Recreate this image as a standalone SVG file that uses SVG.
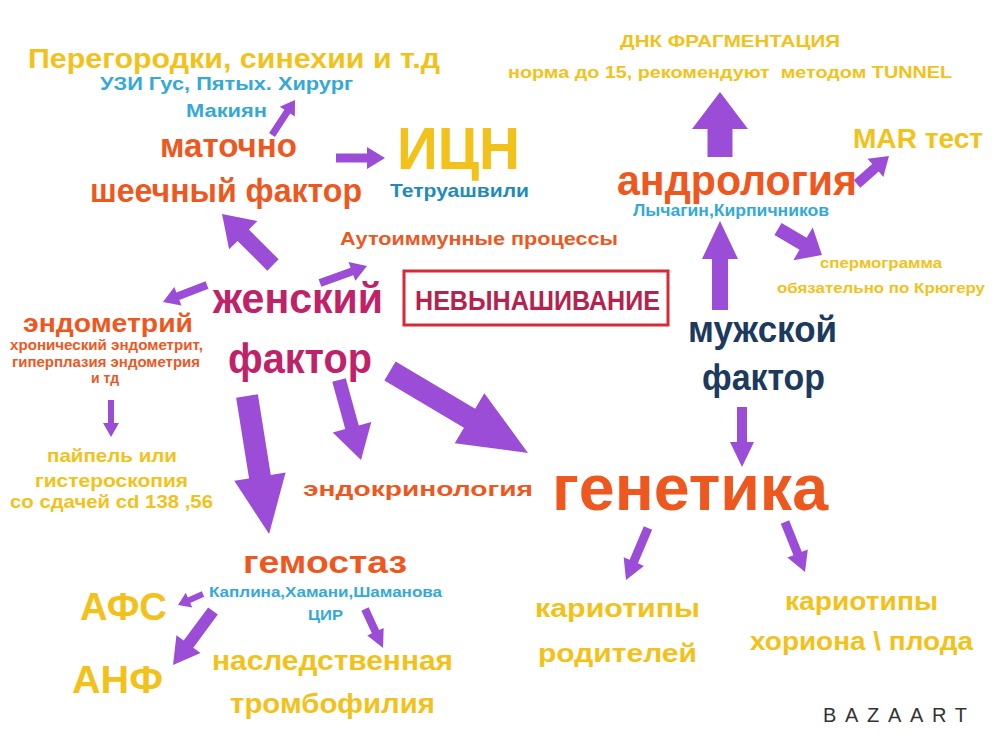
<svg xmlns="http://www.w3.org/2000/svg" width="1000" height="749" viewBox="0 0 1000 749">
<style>
text{font-family:"Liberation Sans",Arial,sans-serif;font-weight:bold}
.y{fill:#F2C21B}.o{fill:#EE581F}.b{fill:#34A9D9}.bd{fill:#1E8CBA}.m{fill:#C0226A}.n{fill:#1B3A5E}
.arr{fill:#9B4DD8}
</style>
<rect width="1000" height="749" fill="#FFFFFF"/>
<g id="connectors">
<path class="arr" d="M0,-3.5 H27.9 V-9 L41.9,0 L27.9,9 V3.5 H0Z" transform="translate(272,135) rotate(-56.7)"/>
<path class="arr" d="M0,-4.5 H31 V-11 L49,0 L31,11 V4.5 H0Z" transform="translate(336,158)"/>
<path class="arr" d="M0,-8 H42.1 V-20 L72.1,0 L42.1,20 V8 H0Z" transform="translate(273,265) rotate(-135)"/>
<path class="arr" d="M0,-4 H34 V-10 L50,0 L34,10 V4 H0Z" transform="translate(320,283) rotate(-19.9)"/>
<path class="arr" d="M0,-4 H31.2 V-10 L47.2,0 L31.2,10 V4 H0Z" transform="translate(207,285) rotate(158.9)"/>
<path class="arr" d="M0,-3 H23 V-8 L37,0 L23,8 V3 H0Z" transform="translate(111,400) rotate(90)"/>
<path class="arr" d="M0,-11 H81.7 V-26 L139.7,0 L81.7,26 V11 H0Z" transform="translate(247,396) rotate(80.9)"/>
<path class="arr" d="M0,-7 H49 V-20 L83,0 L49,20 V7 H0Z" transform="translate(339,380) rotate(74.6)"/>
<path class="arr" d="M0,-11 H92.5 V-29 L160.5,0 L92.5,29 V11 H0Z" transform="translate(390,371) rotate(30.7)"/>
<path class="arr" d="M0,-8 H51 V-18 L89,0 L51,18 V8 H0Z" transform="translate(720,310) rotate(-90)"/>
<path class="arr" d="M0,-12.5 H28 V-28 L65,0 L28,28 V12.5 H0Z" transform="translate(720,157) rotate(-90)"/>
<path class="arr" d="M0,-5 H24.5 V-12 L42.5,0 L24.5,12 V5 H0Z" transform="translate(857,184) rotate(-41.2)"/>
<path class="arr" d="M0,-7 H29.1 V-19 L51.1,0 L29.1,19 V7 H0Z" transform="translate(778,229) rotate(30.6)"/>
<path class="arr" d="M0,-5 H35 V-12 L60,0 L35,12 V5 H0Z" transform="translate(742,407) rotate(90)"/>
<path class="arr" d="M0,-3 H15.3 V-8 L27.3,0 L15.3,8 V3 H0Z" transform="translate(203,594) rotate(156.3)"/>
<path class="arr" d="M0,-6 H41.2 V-15 L67.2,0 L41.2,15 V6 H0Z" transform="translate(213,611) rotate(126.5)"/>
<path class="arr" d="M0,-4 H25 V-9 L43,0 L25,9 V4 H0Z" transform="translate(365,609) rotate(65.2)"/>
<path class="arr" d="M0,-4.5 H36.5 V-11 L56.5,0 L36.5,11 V4.5 H0Z" transform="translate(648,528) rotate(112.9)"/>
<path class="arr" d="M0,-4.5 H33.9 V-11 L53.9,0 L33.9,11 V4.5 H0Z" transform="translate(785,522) rotate(68.2)"/>
</g>
<g id="peregorodki">
<text class="y" x="28" y="68" font-size="28" textLength="412" lengthAdjust="spacingAndGlyphs">Перегородки, синехии и т.д</text>
<text class="b" x="100" y="90" font-size="18" textLength="253" lengthAdjust="spacingAndGlyphs">УЗИ Гус, Пятых. Хирург</text>
<text class="b" x="186" y="117" font-size="18" textLength="81" lengthAdjust="spacingAndGlyphs">Макиян</text>
</g>
<g id="matochno">
<text class="o" x="160" y="157" font-size="34" textLength="137" lengthAdjust="spacingAndGlyphs">маточно</text>
<text class="o" x="90" y="202" font-size="34" textLength="272" lengthAdjust="spacingAndGlyphs">шеечный фактор</text>
</g>
<g id="icn">
<text class="y" x="397" y="169" font-size="60" textLength="123" lengthAdjust="spacingAndGlyphs">ИЦН</text>
<text class="bd" x="390" y="197" font-size="19" textLength="139" lengthAdjust="spacingAndGlyphs">Тетруашвили</text>
</g>
<g id="autoimmune">
<text class="o" x="340" y="245" font-size="18" textLength="278" lengthAdjust="spacingAndGlyphs">Аутоиммунные процессы</text>
</g>
<g id="zhenskiy">
<text class="m" x="213" y="313" font-size="42" textLength="170" lengthAdjust="spacingAndGlyphs">женский</text>
<text class="m" x="228" y="373" font-size="42" textLength="144" lengthAdjust="spacingAndGlyphs">фактор</text>
</g>
<g id="nevynashivanie">
<rect x="404" y="271" width="264" height="54" fill="none" stroke="#D62B36" stroke-width="3"/>
<text x="415" y="310" font-size="27" fill="#B5224E" textLength="245" lengthAdjust="spacingAndGlyphs">НЕВЫНАШИВАНИЕ</text>
</g>
<g id="endometriy">
<text class="o" x="23" y="332" font-size="26" textLength="170" lengthAdjust="spacingAndGlyphs">эндометрий</text>
<text class="o" x="10" y="350" font-size="14" textLength="193" lengthAdjust="spacingAndGlyphs">хронический эндометрит,</text>
<text class="o" x="12" y="367" font-size="14" textLength="188" lengthAdjust="spacingAndGlyphs">гиперплазия эндометрия</text>
<text class="o" x="105" y="383" font-size="14" text-anchor="middle">и тд</text>
</g>
<g id="paypel">
<text class="y" x="47" y="462" font-size="19" textLength="130" lengthAdjust="spacingAndGlyphs">пайпель или</text>
<text class="y" x="35" y="487" font-size="19" textLength="153" lengthAdjust="spacingAndGlyphs">гистероскопия</text>
<text class="y" x="10" y="508" font-size="19" textLength="203" lengthAdjust="spacingAndGlyphs">со сдачей cd 138 ,56</text>
</g>
<g id="endokrinologiya">
<text class="o" x="303" y="496" font-size="20" textLength="230" lengthAdjust="spacingAndGlyphs">эндокринология</text>
</g>
<g id="genetika">
<text class="o" x="552" y="510" font-size="64" textLength="276" lengthAdjust="spacingAndGlyphs">генетика</text>
</g>
<g id="andrologiya">
<text class="o" x="617" y="195" font-size="43" textLength="240" lengthAdjust="spacingAndGlyphs">андрология</text>
<text class="b" x="633" y="216" font-size="16" textLength="196" lengthAdjust="spacingAndGlyphs">Лычагин,Кирпичников</text>
</g>
<g id="dnk">
<text class="y" x="620" y="47" font-size="17" textLength="220" lengthAdjust="spacingAndGlyphs">ДНК ФРАГМЕНТАЦИЯ</text>
<text class="y" x="508" y="78" font-size="17" textLength="444" lengthAdjust="spacingAndGlyphs" xml:space="preserve">норма до 15, рекомендуют  методом TUNNEL</text>
</g>
<g id="mar">
<text class="y" x="853" y="148" font-size="27" textLength="130" lengthAdjust="spacingAndGlyphs">MAR тест</text>
</g>
<g id="spermogramma">
<text class="y" x="820" y="268" font-size="15" textLength="122" lengthAdjust="spacingAndGlyphs">спермограмма</text>
<text class="y" x="777" y="293" font-size="15" textLength="208" lengthAdjust="spacingAndGlyphs">обязательно по Крюгеру</text>
</g>
<g id="muzhskoy">
<text class="n" x="688" y="342" font-size="36" textLength="149" lengthAdjust="spacingAndGlyphs">мужской</text>
<text class="n" x="702" y="390" font-size="36" textLength="123" lengthAdjust="spacingAndGlyphs">фактор</text>
</g>
<g id="gemostaz">
<text class="o" x="243" y="573" font-size="32" textLength="164" lengthAdjust="spacingAndGlyphs">гемостаз</text>
<text class="b" x="209" y="597" font-size="15" textLength="233" lengthAdjust="spacingAndGlyphs">Каплина,Хамани,Шаманова</text>
<text class="b" x="308" y="620" font-size="15" textLength="35" lengthAdjust="spacingAndGlyphs">ЦИР</text>
</g>
<g id="afs">
<text class="y" x="80" y="620" font-size="38" textLength="87" lengthAdjust="spacingAndGlyphs">АФС</text>
</g>
<g id="anf">
<text class="y" x="72" y="693" font-size="38" textLength="91" lengthAdjust="spacingAndGlyphs">АНФ</text>
</g>
<g id="trombofiliya">
<text class="y" x="212" y="670" font-size="27" textLength="241" lengthAdjust="spacingAndGlyphs">наследственная</text>
<text class="y" x="230" y="713" font-size="27" textLength="205" lengthAdjust="spacingAndGlyphs">тромбофилия</text>
</g>
<g id="kariotipy-roditeley">
<text class="y" x="535" y="617" font-size="26" textLength="165" lengthAdjust="spacingAndGlyphs">кариотипы</text>
<text class="y" x="538" y="662" font-size="26" textLength="159" lengthAdjust="spacingAndGlyphs">родителей</text>
</g>
<g id="kariotipy-ploda">
<text class="y" x="785" y="610" font-size="26" textLength="153" lengthAdjust="spacingAndGlyphs">кариотипы</text>
<text class="y" x="750" y="650" font-size="26" textLength="223" lengthAdjust="spacingAndGlyphs">хориона \ плода</text>
</g>
<g id="bazaart">
<text x="823" y="722" font-size="20" style="font-weight:normal" fill="#333333" textLength="144" lengthAdjust="spacing">BAZAART</text>
</g>
</svg>
